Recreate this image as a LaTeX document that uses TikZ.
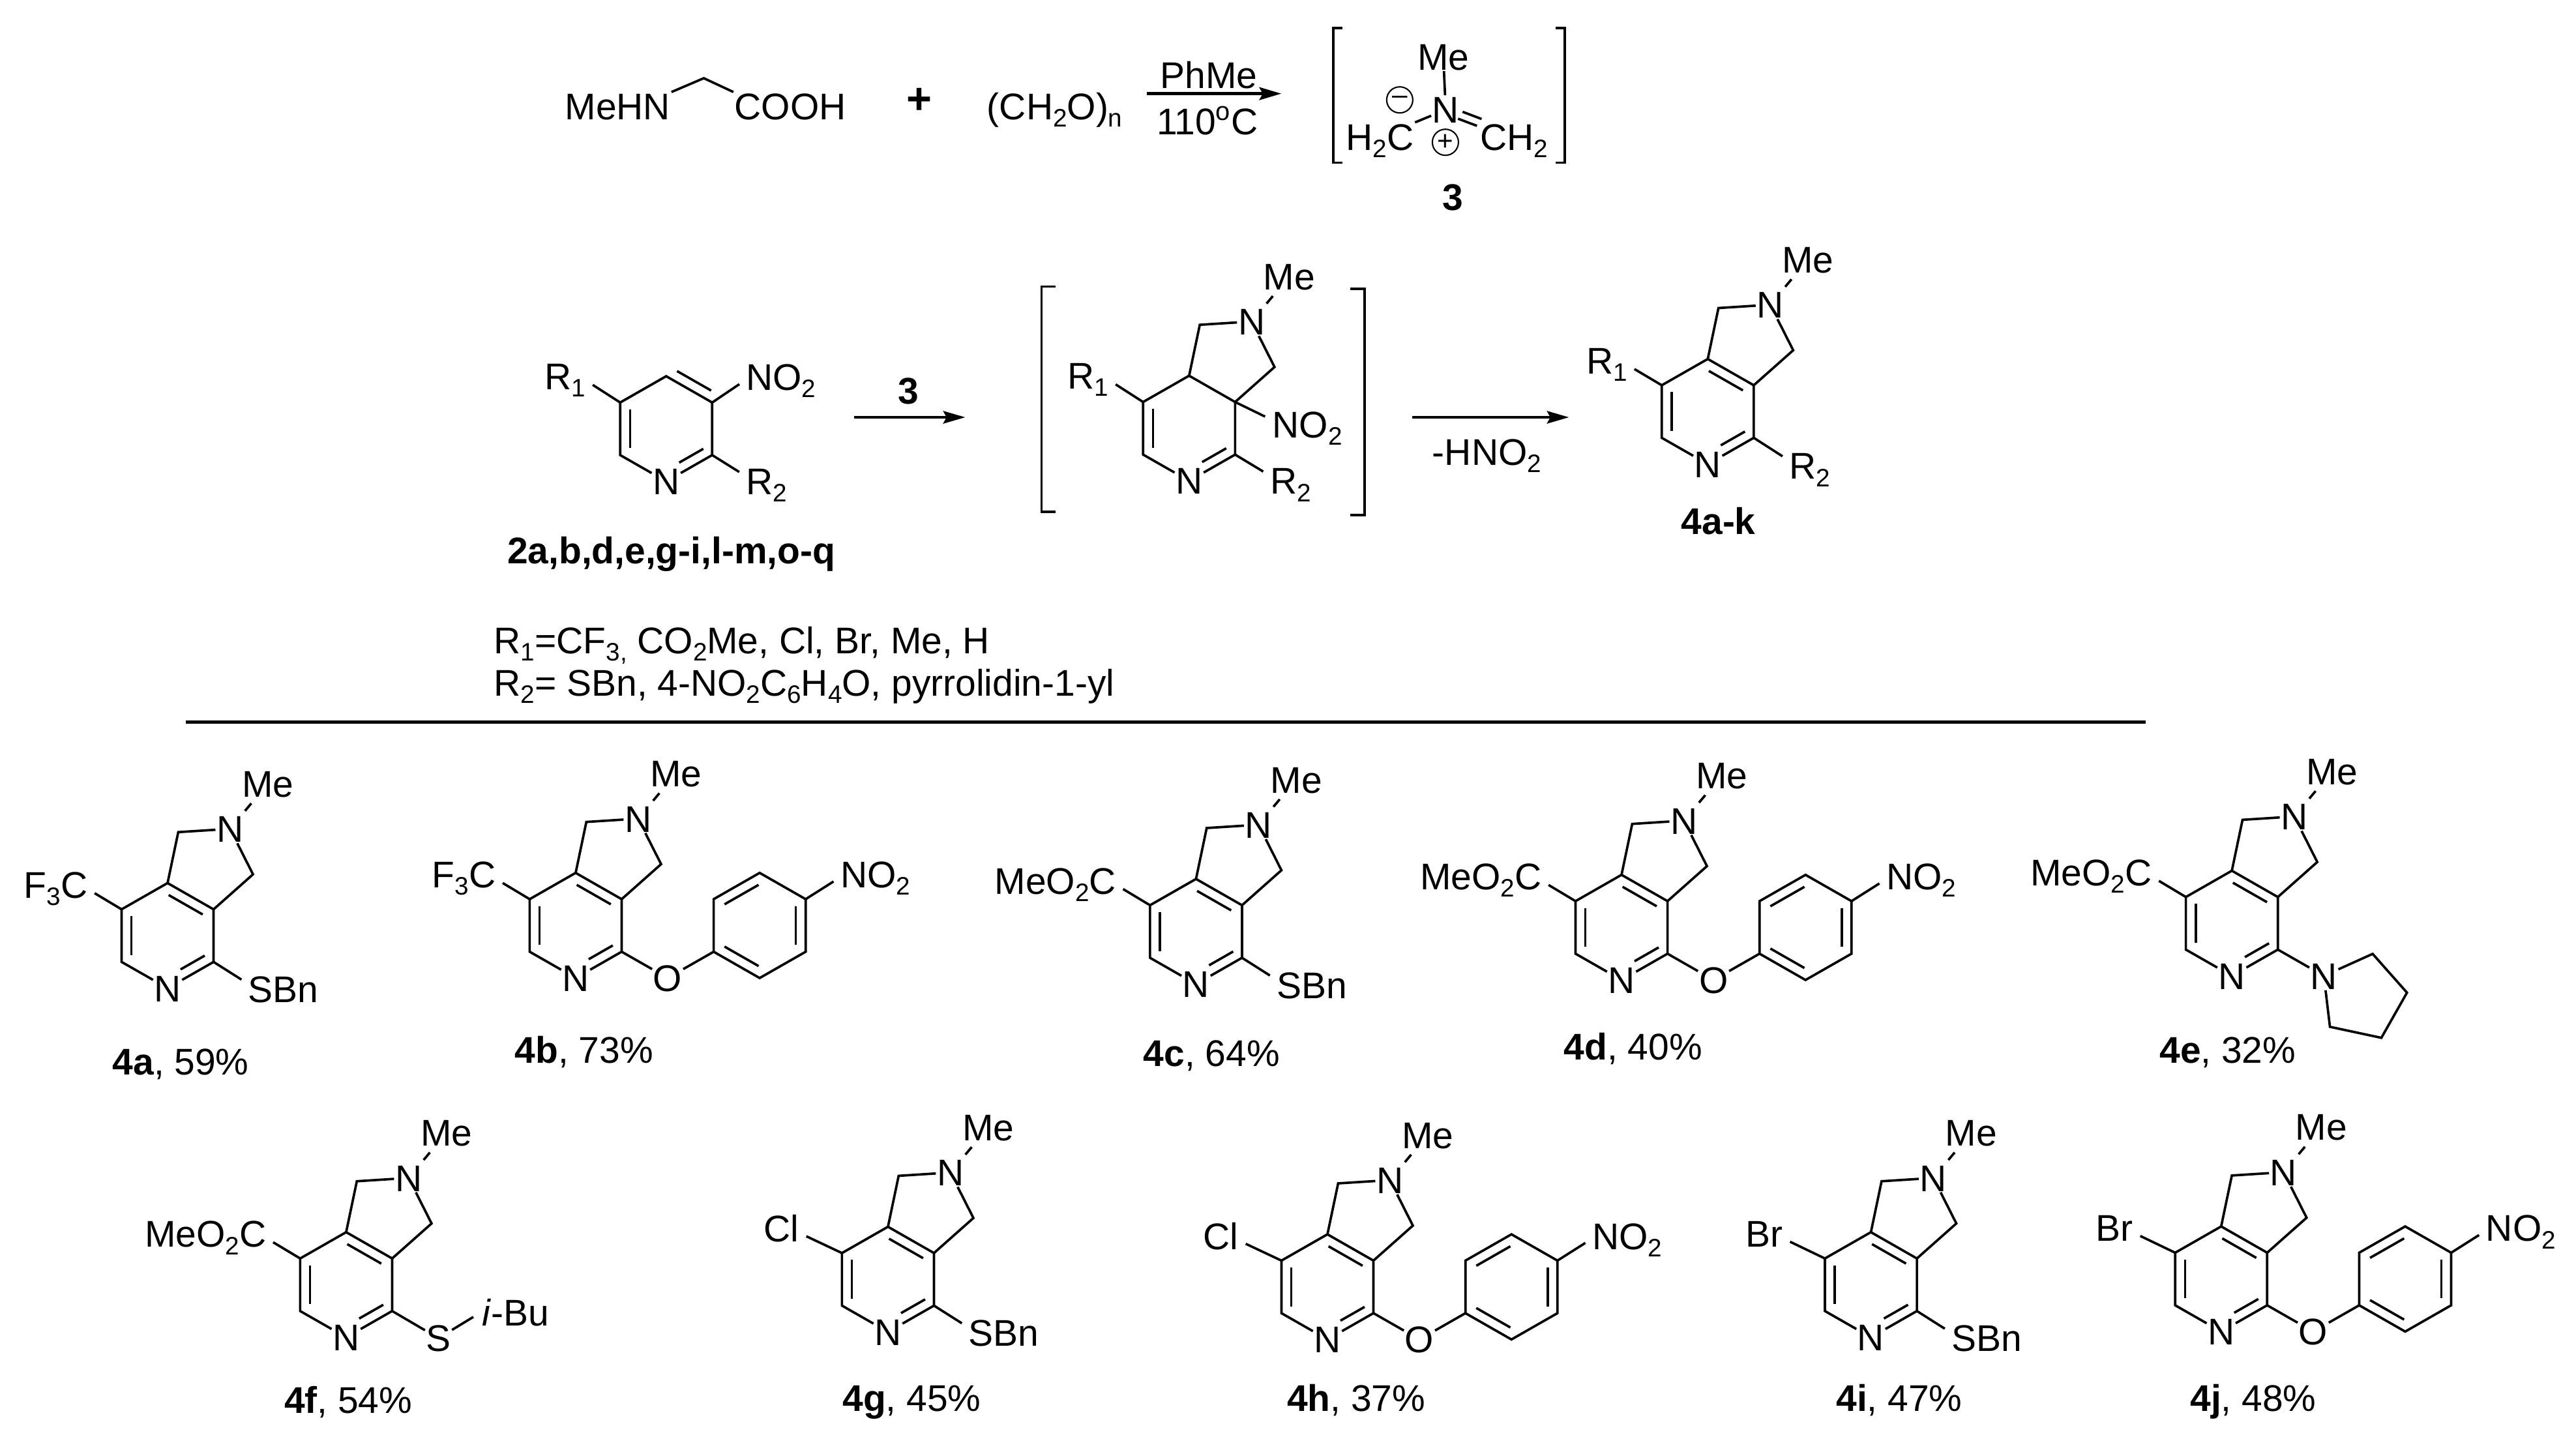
\documentclass[tikz,border=0pt]{standalone}
\usepackage{fontspec}
\setmainfont{Liberation Sans}
\usetikzlibrary{calc,arrows.meta}

\newcommand{\lowsub}[1]{\raisebox{-3.2pt}{\fontsize{11}{12}\selectfont #1}}
\tikzset{
  atom/.style={inner sep=0pt,outer sep=.5pt,font=\fontsize{16.2}{18}\selectfont,text height=11.6pt,text depth=0pt},
  bond/.style={line width=1.05pt},
  rxn/.style={line width=1.05pt,-{Stealth[length=9.6pt,width=5.5pt,inset=1.5pt]}},
  brack/.style={line width=1.05pt},
  charge/.style={draw,circle,line width=.6pt,inner sep=0pt,minimum size=.4cm,font=\fontsize{12}{12}\selectfont}
}
% inner stroke of a double bond, on the right of #1 -> #2
\newcommand{\innerb}[4]{\draw[bond,shorten <=#3pt,shorten >=#4pt] ($(#1)!4.3pt!-90:(#2)$) -- ($(#2)!4.3pt!90:(#1)$);}
% bond that stops just short of a label
\newcommand{\labelbond}[3]{\draw[bond,shorten >=3pt] (#1) -- ($(#2)+(0,#3)$);}
% pyridine ring, shared by every compound
\newcommand{\ringsix}[1]{
  \coordinate (#1t) at (0,0);
  \coordinate (#1l) at (-28,-16);
  \coordinate (#1r) at (28,-16);
  \coordinate (#1bl) at (-28,-48);
  \coordinate (#1br) at (28,-48);
  \node[atom] (#1n) at (0,-64) {N};
  \draw[bond] (#1n) -- (#1bl) -- (#1l) -- (#1t) -- (#1r) -- (#1br) -- (#1n);
  \innerb{#1bl}{#1l}{3}{3}
  \innerb{#1br}{#1n}{2}{9}
}
% N-methyl five ring on top of it
\newcommand{\ringfive}[1]{
  \coordinate (#1ca) at (6.5,31);
  \node[atom] (#1m) at (38,33) {N};
  \coordinate (#1cb) at (52,5.3);
  \node[atom] (#1me) at (61,60.5) {Me};
  \draw[bond] (#1t) -- (#1ca) -- (#1m) -- (#1cb) -- (#1r);
  \draw[bond,shorten >=3pt,shorten <=2pt] (#1m) -- (#1me);
}
\newcommand{\core}[1]{
  \ringsix{#1}
  \ringfive{#1}
  \innerb{#1t}{#1r}{3}{3}
}
\newcommand{\leftsub}[3][-48]{
  \node[atom,anchor=east] (#2x) at (#1,-1) {#3};
  \labelbond{#2l}{#2x.east}{-3}
}
\newcommand{\sbn}[1]{
  \node[atom,anchor=west] (#1s) at (48.5,-64.5) {SBn};
  \labelbond{#1br}{#1s.west}{3.5}
}
\newcommand{\aryloxy}[1]{
  \node[atom] (#1o) at (56,-64) {O};
  \coordinate (#1a1) at (84,-48);
  \coordinate (#1a2) at (84,-16);
  \coordinate (#1a3) at (112,0);
  \coordinate (#1a4) at (140,-16);
  \coordinate (#1a5) at (140,-48);
  \coordinate (#1a6) at (112,-64);
  \draw[bond] (#1br) -- (#1o) -- (#1a1);
  \draw[bond] (#1a1) -- (#1a2) -- (#1a3) -- (#1a4) -- (#1a5) -- (#1a6) -- cycle;
  \innerb{#1a2}{#1a3}{3}{3}
  \innerb{#1a4}{#1a5}{3}{3}
  \innerb{#1a6}{#1a1}{3}{3}
  \node[atom,anchor=west] (#1no) at (160.5,-1) {NO\lowsub{2}};
  \labelbond{#1a4}{#1no.west}{-2}
}

\begin{document}
\begin{tikzpicture}[x=.025198cm,y=.025198cm]
  \useasboundingbox (0,0) rectangle (1568,-874.3);

  % formation of the ylide 3
  \node[atom] (mehn) at (376,-64.8) {MeHN};
  \node[atom] (cooh) at (481,-64.8) {COOH};
  \coordinate (gly) at (428.4,-47.6);
  \draw[bond] (mehn.north east) -- (gly) -- (cooh.north west);
  \node[atom,font=\fontsize{19}{19}\bfseries] (plus) at (559.6,-61) {+};
  \node[atom] (para) at (642,-64.8) {(CH\lowsub{2}O)\lowsub{n}};
  \coordinate (a1s) at (698,-57);
  \coordinate (a1e) at (780,-57);
  \draw[rxn,line width=1.5pt] (a1s) -- (a1e);
  \node[atom] (phme) at (735.8,-45.6) {PhMe};
  \node[atom] (temp) at (735,-73.8) {110\textsuperscript{o}C};
  \draw[brack] (817,-17) -- (811.5,-17) -- (811.5,-99) -- (817,-99);
  \draw[brack] (947,-17) -- (952.5,-17) -- (952.5,-99) -- (947,-99);
  \node[atom] (ymen) at (880,-66.8) {N};
  \node[atom] (yme) at (878.5,-34.4) {Me};
  \node[atom] (yl) at (840,-83.3) {H\lowsub{2}C};
  \node[atom] (yr) at (921.7,-83.3) {CH\lowsub{2}};
  \draw[bond] (ymen) -- (yme);
  \draw[bond] (ymen) -- (yl.north east);
  \draw[bond,transform canvas={xshift=1pt,yshift=1.5pt}] (ymen) -- (yr.north west);
  \draw[bond,transform canvas={xshift=-1pt,yshift=-1.5pt}] (ymen) -- (yr.north west);
  \node[charge] (neg) at (852,-60.8) {–};
  \node[charge] (pos) at (879.8,-86.6) {+};
  \node[atom] (lthree) at (884.4,-119.7) {\textbf{3}};

  % cycloaddition
  \begin{scope}[shift={(405.5,-229)}]
    \ringsix{p}
    \innerb{pr}{pt}{3}{3}
    \node[atom,anchor=west] (pa) at (-74.5,0) {R\lowsub{1}};
    \node[atom,anchor=west] (pb) at (48,-.5) {NO\lowsub{2}};
    \node[atom,anchor=west] (pc) at (48,-64) {R\lowsub{2}};
    \labelbond{pl}{pa.east}{-3}
    \labelbond{pr}{pb.west}{-2}
    \labelbond{pbr}{pc.west}{3.5}
  \end{scope}
  \node[atom] (lp) at (408.6,-335) {\textbf{2a,b,d,e,g-i,l-m,o-q}};
  \coordinate (a2s) at (520,-254);
  \coordinate (a2e) at (587.5,-254);
  \draw[rxn] (a2s) -- (a2e);
  \node[atom] (lab3) at (553,-237.6) {\textbf{3}};
  \draw[brack] (642.6,-174.4) -- (634,-174.4) -- (634,-311.5) -- (642.6,-311.5);
  \draw[brack] (822,-175.8) -- (830.6,-175.8) -- (830.6,-313.5) -- (822,-313.5);
  \begin{scope}[shift={(723.8,-228.7)}]
    \ringsix{q}
    \ringfive{q}
    \node[atom,anchor=west] (qa) at (-74.5,0) {R\lowsub{1}};
    \node[atom,anchor=west] (qb) at (50,-29.7) {NO\lowsub{2}};
    \node[atom,anchor=west] (qc) at (48.7,-64) {R\lowsub{2}};
    \labelbond{ql}{qa.east}{-3}
    \labelbond{qr}{qb.west}{3}
    \labelbond{qbr}{qc.west}{3.5}
  \end{scope}
  \coordinate (a3s) at (859.4,-254);
  \coordinate (a3e) at (955,-254);
  \draw[rxn] (a3s) -- (a3e);
  \node[atom] (hno) at (905,-275) {-HNO\lowsub{2}};
  \begin{scope}[shift={(1039.5,-218.5)}]
    \core{k}
    \node[atom,anchor=west] (ka) at (-74.5,-1) {R\lowsub{1}};
    \node[atom,anchor=west] (kc) at (49,-65) {R\lowsub{2}};
    \labelbond{kl}{ka.east}{-3}
    \labelbond{kbr}{kc.west}{3.5}
  \end{scope}
  \node[atom] (lk) at (1046,-317) {\textbf{4a-k}};

  \node[atom,anchor=west] (rone) at (300,-389.6) {R\lowsub{1}=CF\lowsub{3,} CO\lowsub{2}Me, Cl, Br, Me, H};
  \node[atom,anchor=west] (rtwo) at (300,-415.5) {R\lowsub{2}= SBn, 4-NO\lowsub{2}C\lowsub{6}H\lowsub{4}O, pyrrolidin-1-yl};
  \coordinate (rulel) at (113,-439.7);
  \coordinate (ruler) at (1306,-439.7);
  \draw[line width=1.42pt] (rulel) -- (ruler);

  % first row
  \begin{scope}[shift={(102,-537.5)}]
    \core{a}
    \leftsub{a}{F\lowsub{3}C}
    \sbn{a}
  \end{scope}
  \begin{scope}[shift={(350.4,-531.3)}]
    \core{b}
    \leftsub{b}{F\lowsub{3}C}
    \aryloxy{b}
  \end{scope}
  \begin{scope}[shift={(728,-535)}]
    \core{c}
    \leftsub{c}{MeO\lowsub{2}C}
    \sbn{c}
  \end{scope}
  \begin{scope}[shift={(987,-532.5)}]
    \core{d}
    \leftsub{d}{MeO\lowsub{2}C}
    \aryloxy{d}
  \end{scope}
  \begin{scope}[shift={(1358.5,-530)}]
    \core{e}
    \leftsub{e}{MeO\lowsub{2}C}
    \node[atom] (ep) at (56,-64) {N};
    \coordinate (ep1) at (85.7,-50.6);
    \coordinate (ep2) at (106.6,-74.2);
    \coordinate (ep3) at (91,-101.7);
    \coordinate (ep4) at (59.7,-95);
    \draw[bond] (ebr) -- (ep);
    \draw[bond] (ep) -- (ep1) -- (ep2) -- (ep3) -- (ep4) -- (ep);
  \end{scope}
  \node[atom] (la) at (110,-646) {\textbf{4a}, 59\%};
  \node[atom] (lb) at (355.5,-639) {\textbf{4b}, 73\%};
  \node[atom] (lc) at (737.5,-641) {\textbf{4c}, 64\%};
  \node[atom] (ld) at (994,-637) {\textbf{4d}, 40\%};
  \node[atom] (le) at (1356,-639) {\textbf{4e}, 32\%};

  % second row
  \begin{scope}[shift={(210.7,-750)}]
    \core{f}
    \leftsub{f}{MeO\lowsub{2}C}
    \node[atom] (fs) at (56.2,-64.5) {S};
    \node[atom,anchor=west] (fb) at (82,-49) {\textit{i}-Bu};
    \coordinate (fe) at (77.4,-51.6);
    \draw[bond] (fbr) -- (fs);
    \draw[bond] (fs) -- (fe);
  \end{scope}
  \begin{scope}[shift={(540.5,-746.7)}]
    \core{g}
    \leftsub[-53.5]{g}{Cl}
    \sbn{g}
  \end{scope}
  \begin{scope}[shift={(808,-751.3)}]
    \core{h}
    \leftsub[-53.5]{h}{Cl}
    \aryloxy{h}
  \end{scope}
  \begin{scope}[shift={(1138.8,-750)}]
    \core{i}
    \leftsub[-53]{i}{Br}
    \sbn{i}
  \end{scope}
  \begin{scope}[shift={(1352,-746.5)}]
    \core{j}
    \leftsub[-53]{j}{Br}
    \aryloxy{j}
  \end{scope}
  \node[atom] (lf) at (212,-852) {\textbf{4f}, 54\%};
  \node[atom] (lg) at (555,-851) {\textbf{4g}, 45\%};
  \node[atom] (lh) at (825.5,-851) {\textbf{4h}, 37\%};
  \node[atom] (li) at (1156,-851) {\textbf{4i}, 47\%};
  \node[atom] (lj) at (1371.5,-851) {\textbf{4j}, 48\%};
\end{tikzpicture}
\end{document}
